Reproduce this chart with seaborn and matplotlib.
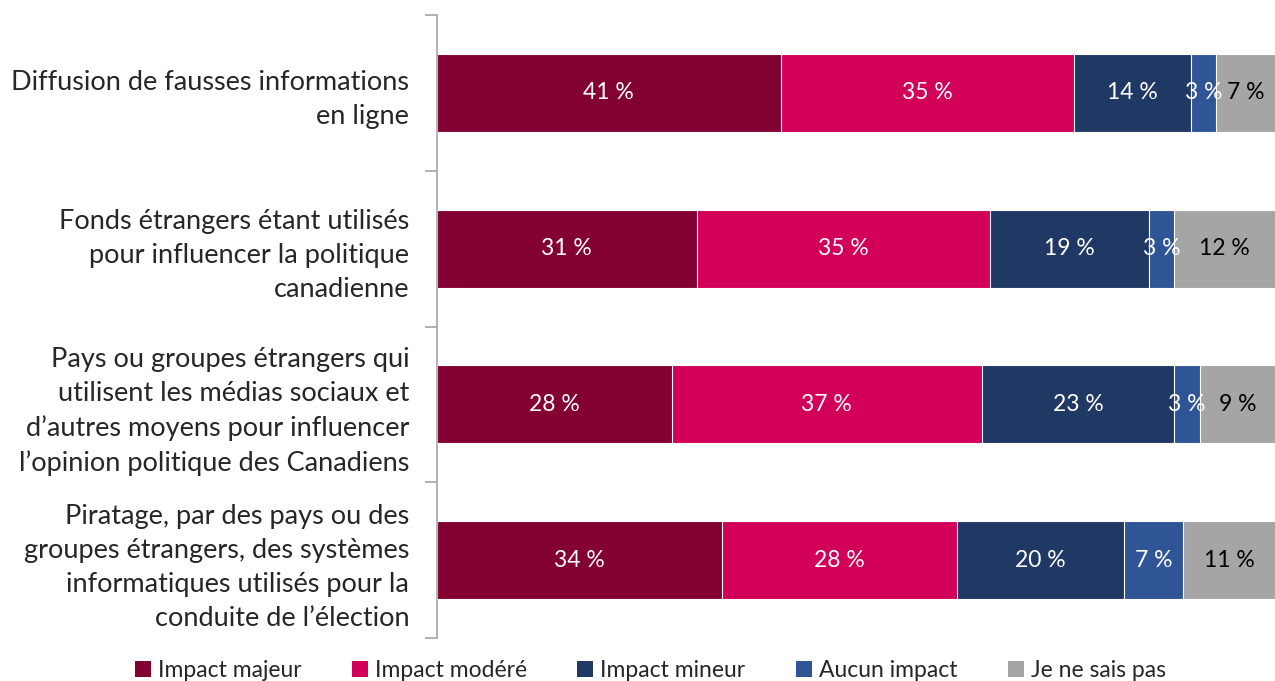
import matplotlib
matplotlib.use("Agg")
import matplotlib.pyplot as plt
import seaborn as sns
import pandas as pd
import numpy as np
from matplotlib.patches import Patch

categories = [
    "Diffusion de fausses informations\nen ligne",
    "Fonds étrangers étant utilisés\npour influencer la politique\ncanadienne",
    "Pays ou groupes étrangers qui\nutilisent les médias sociaux et\nd’autres moyens pour influencer\nl’opinion politique des Canadiens",
    "Piratage, par des pays ou des\ngroupes étrangers, des systèmes\ninformatiques utilisés pour la\nconduite de l’élection",
]
series_names = ["Impact majeur", "Impact modéré", "Impact mineur", "Aucun impact", "Je ne sais pas"]
impact_majeur = [41, 31, 28, 34]
impact_modere = [35, 35, 37, 28]
impact_mineur = [14, 19, 23, 20]
aucun_impact = [3, 3, 3, 7]
ne_sais_pas = [7, 12, 9, 11]

colors = ["#830033", "#D20058", "#203864", "#2F5597", "#A5A5A5"]
text_colors = ["white", "white", "white", "white", "black"]

series = [impact_majeur, impact_modere, impact_mineur, aucun_impact, ne_sais_pas]
cum = np.cumsum(np.array(series), axis=0)

sns.set_theme(style="white")
plt.rcParams['font.family'] = ['Lato', 'DejaVu Sans']

fig = plt.figure(figsize=(12.75, 6.81), dpi=100)
ax = fig.add_axes([0.3427, 0.063, 0.6573, 0.915])

for i in range(len(series) - 1, -1, -1):
    df = pd.DataFrame({"cat": categories, "val": cum[i]})
    sns.barplot(data=df, y="cat", x="val", orient="h", color=colors[i],
                width=0.5, edgecolor="white", linewidth=0.8, ax=ax, saturation=1)

for i, s in enumerate(series):
    for j, v in enumerate(s):
        center = cum[i][j] - v / 2
        ax.text(center, j, f"{v} %", ha="center", va="center",
                color=text_colors[i], fontsize=16.5)

ax.set_xlim(0, 100)
ax.set_ylim(3.5, -0.5)
ax.set_xlabel("")
ax.set_ylabel("")
ax.set_xticks([])
for sp in ["top", "right", "bottom"]:
    ax.spines[sp].set_visible(False)
ax.spines["left"].set_color("#A6A6A6")
ax.spines["left"].set_linewidth(1.2)
ax.tick_params(axis="y", which="major", left=False, length=0, pad=20, labelsize=19.5)
ax.set_yticks([-0.5, 0.5, 1.5, 2.5, 3.5], minor=True)
ax.tick_params(axis="y", which="minor", left=True, length=9, color="#A6A6A6", width=1.2, direction="out")
for lab in ax.get_yticklabels():
    lab.set_ha("right")
    lab.set_multialignment("right")
    lab.set_linespacing(1.45)

handles = [Patch(facecolor=c, edgecolor="none") for c in colors]
fig.legend(handles, series_names, loc="lower center", bbox_to_anchor=(0.51, -0.03),
           ncol=5, frameon=False, fontsize=16.5, handlelength=0.7, handleheight=0.7,
           handletextpad=0.3, columnspacing=2.2)

fig.savefig("out.png", dpi=100)
